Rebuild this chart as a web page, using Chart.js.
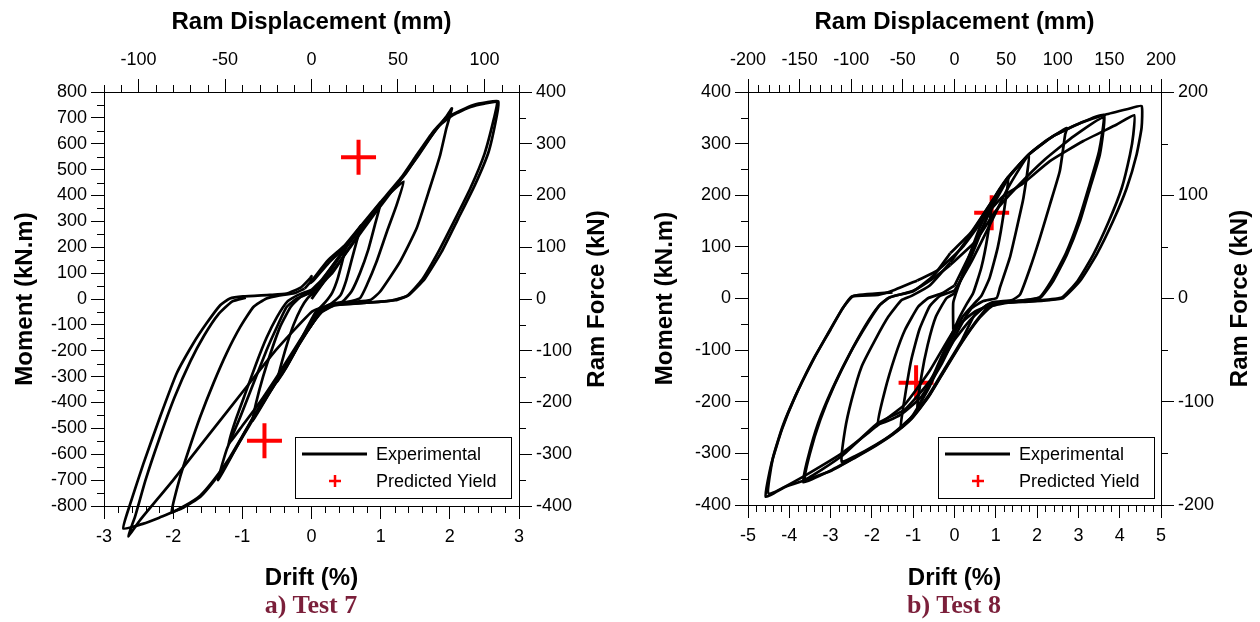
<!DOCTYPE html>
<html>
<head>
<meta charset="utf-8">
<script src="https://cdn.jsdelivr.net/npm/chart.js@4.4.0/dist/chart.umd.min.js"></script>
<style>
  html, body { margin: 0; padding: 0; background: #fff; }
  #wrap { position: relative; width: 1260px; height: 622px; }
  .panel { position: absolute; top: 0; width: 630px; height: 622px; }
  .caption {
    position: absolute; top: 590px; line-height: 30px;
    font: bold 26px "Liberation Serif", "Times New Roman", serif;
    color: #7b1f3a; white-space: nowrap; transform: translateX(-50%);
  }
</style>
</head>
<body>
<div id="wrap">
  <div class="panel" style="left:0"><canvas id="test7" width="630" height="622"></canvas></div>
  <div class="panel" style="left:630px"><canvas id="test8" width="630" height="622"></canvas></div>
  <div class="caption" style="left:311px">a) Test 7</div>
  <div class="caption" style="left:954px">b) Test 8</div>
</div>
<script>
const FONT = '"Liberation Sans", Arial, sans-serif';

// ---- Test 7: drift (%) vs moment (kN.m), one array per cycle ----
const t7Cycle1 = [[0,0],[0.15,55],[0.3,120],[0.45,180],[0.5,205],[0.45,150],[0.38,80],[0.3,25],[0.2,-12],[0.05,-55],[-0.1,-130],[-0.25,-210],[-0.4,-280],[-0.5,-320],[-0.45,-265],[-0.36,-180],[-0.26,-100],[-0.15,-35],[-0.05,5],[0.05,30]];
const t7Cycle2 = [[0.05,30],[0.2,90],[0.4,165],[0.6,240],[0.72,285],[0.65,220],[0.58,150],[0.5,70],[0.42,15],[0.3,-15],[0.15,-45],[0,-100],[-0.2,-185],[-0.4,-275],[-0.6,-360],[-0.85,-470],[-0.8,-400],[-0.7,-300],[-0.58,-200],[-0.45,-105],[-0.3,-30],[-0.15,10],[0,30]];
const t7Cycle3 = [[0,30],[0.3,100],[0.55,200],[0.8,295],[1.0,375],[0.92,290],[0.82,190],[0.7,100],[0.58,30],[0.45,-10],[0.25,-22],[0.1,-50],[-0.05,-110],[-0.25,-195],[-0.5,-300],[-0.75,-400],[-1.0,-490],[-1.2,-560],[-1.1,-470],[-0.95,-360],[-0.8,-250],[-0.65,-150],[-0.5,-70],[-0.35,-10],[-0.2,15],[0,35]];
const t7Cycle4 = [[0,35],[0.15,75],[0.35,145],[0.6,235],[0.9,340],[1.1,400],[1.33,454],[1.23,363],[1.09,260],[0.94,144],[0.8,54],[0.7,3],[0.5,-12],[0.3,-20],[0.15,-45],[0,-100],[-0.17,-165],[-0.36,-255],[-0.6,-350],[-0.85,-460],[-1.1,-580],[-1.35,-700],[-1.23,-585],[-1.03,-456],[-0.84,-327],[-0.65,-198],[-0.5,-108],[-0.36,-31],[-0.21,2],[-0.05,20],[0.1,40]];
const t7Cycle5 = [[0.1,40],[0.3,105],[0.6,215],[0.9,325],[1.2,430],[1.52,545],[1.76,640],[1.95,705],[2.03,737],[1.95,660],[1.86,556],[1.71,428],[1.52,273],[1.28,144],[0.99,28],[0.85,-4],[0.6,-12],[0.34,-22],[0.15,-48],[0,-100],[-0.17,-168],[-0.36,-258],[-0.55,-335],[-0.8,-440],[-1.0,-530],[-1.2,-620],[-1.4,-695],[-1.61,-760],[-1.85,-802],[-2.02,-823],[-1.9,-688],[-1.76,-572],[-1.61,-456],[-1.42,-327],[-1.23,-211],[-1.03,-108],[-0.84,-31],[-0.65,2],[-0.46,14],[-0.25,22],[-0.1,40]];
const t7Cycle6 = [[-0.1,40],[0,70],[0.24,150],[0.48,207],[0.72,285],[1.0,375],[1.3,470],[1.52,556],[1.76,647],[1.95,700],[2.15,728],[2.34,750],[2.53,760],[2.7,764],[2.68,710],[2.56,568],[2.36,439],[2.12,310],[1.88,182],[1.64,79],[1.4,14],[1.21,-5],[0.97,-11],[0.63,-18],[0.34,-24],[0.15,-50],[0,-100],[-0.17,-170],[-0.36,-262],[-0.55,-338],[-0.8,-445],[-1.0,-535],[-1.2,-625],[-1.4,-700],[-1.61,-765],[-1.85,-806],[-2.02,-825],[-2.2,-845],[-2.43,-868],[-2.72,-887],[-2.62,-791],[-2.43,-636],[-2.19,-456],[-1.95,-288],[-1.71,-172],[-1.52,-95],[-1.32,-24],[-1.18,2],[-0.99,10],[-0.6,16],[-0.36,21],[-0.15,45],[-0.02,80]];
const t7Cycle7 = [[-0.02,80],[0,88],[-0.01,62],[0.05,78],[0.25,140],[0.5,205],[0.75,285],[1.05,385],[1.35,480],[1.6,580],[1.85,670],[2.05,712],[2.3,742],[2.5,755],[2.68,760],[2.64,700],[2.5,560],[2.3,430],[2.06,300],[1.82,175],[1.6,75],[1.38,12],[1.15,-6],[0.8,-14],[0.4,-22],[0.2,-28],[0,-50],[-0.5,-193],[-0.94,-340],[-1.5,-530],[-2.0,-700],[-2.48,-855],[-2.65,-917],[-2.55,-840],[-2.4,-700],[-2.2,-540],[-1.98,-380],[-1.75,-240],[-1.55,-140],[-1.35,-60],[-1.15,-10],[-0.95,5]];
const t7Yield = [[0.68, 548], [-0.68, -548]];

// ---- Test 8 ----
const t8Cycle1 = [[-0.03,-60],[-0.03,-8],[0.1,25],[0.3,70],[0.6,135],[0.9,185],[0.8,120],[0.65,60],[0.45,10],[0.3,-10],[0.1,-40],[-0.3,-110],[-0.6,-165],[-0.9,-212],[-0.8,-150],[-0.65,-90],[-0.45,-35],[-0.2,0],[0,10]];
const t8Cycle2 = [[0,10],[0.3,60],[0.7,140],[1.0,200],[1.3,235],[1.2,170],[1.05,100],[0.85,40],[0.65,5],[0.5,-8],[0.2,-35],[-0.2,-100],[-0.6,-170],[-1.0,-225],[-1.3,-250],[-1.2,-190],[-1.05,-120],[-0.85,-60],[-0.6,-15],[-0.35,5],[0,15]];
const t8Cycle3 = [[0,15],[0.4,70],[0.9,150],[1.3,215],[1.8,278],[1.67,195],[1.51,137],[1.34,79],[1.1,21],[1.02,1],[0.7,-5],[0.4,-20],[0.1,-60],[-0.3,-125],[-0.8,-190],[-1.3,-225],[-1.85,-243],[-1.68,-177],[-1.44,-112],[-1.2,-61],[-0.88,-16],[-0.63,1],[-0.3,10],[0,25]];
const t8Cycle4 = [[0,25],[0.4,90],[0.9,175],[1.32,235],[1.8,279],[2.2,305],[2.72,330],[2.68,318],[2.55,247],[2.31,182],[2.07,118],[1.83,59],[1.59,8],[1.4,-3],[0.9,-8],[0.5,-30],[0.17,-82],[-0.23,-135],[-0.63,-188],[-1.04,-230],[-1.5,-262],[-1.9,-283],[-2.4,-305],[-2.73,-316],[-2.65,-254],[-2.49,-196],[-2.25,-132],[-1.92,-80],[-1.6,-35],[-1.28,-3],[-1.04,5],[-0.6,25],[-0.1,70]];
const t8Cycle5 = [[-0.1,70],[0.4,125],[0.88,185],[1.32,237],[1.8,279],[2.4,315],[3.05,340],[3.62,356],[3.52,279],[3.28,214],[3.04,150],[2.72,85],[2.39,34],[2.07,1],[1.5,-5],[0.9,-10],[0.58,-38],[0.17,-85],[-0.23,-137],[-0.63,-190],[-1.04,-232],[-1.5,-263],[-1.9,-284],[-2.4,-307],[-2.97,-332],[-3.66,-356],[-3.54,-306],[-3.3,-241],[-2.97,-177],[-2.57,-112],[-2.17,-54],[-1.85,-16],[-1.6,1],[-1.0,15],[-0.5,40],[-0.1,65]];
const t8Cycle5b = [[-0.1,65],[0.5,110],[1.0,170],[1.5,215],[2.2,270],[2.9,315],[3.6,350],[3.5,285],[3.25,215],[3.0,150],[2.7,88],[2.35,35],[2.05,2],[1.4,-6],[0.8,-12],[0.4,-40],[0,-80],[-0.6,-160],[-1.2,-215],[-1.85,-241],[-2.73,-305],[-3.62,-350],[-3.5,-300],[-3.25,-235],[-2.92,-170],[-2.52,-105],[-2.12,-50],[-1.8,-12],[-1.55,3],[-1.0,14],[-0.5,45],[-0.1,88]];
const t8Cycle6 = [[-0.1,88],[0.4,128],[0.88,185],[1.32,237],[1.8,279],[2.4,315],[3.05,340],[3.65,356],[4.2,367],[4.53,373],[4.53,331],[4.41,279],[4.17,214],[3.84,150],[3.44,85],[3.04,34],[2.63,1],[2.3,-3],[1.8,-6],[1.3,-8],[0.9,-15],[0.58,-40],[0.17,-86],[-0.23,-138],[-0.63,-191],[-1.04,-233],[-1.5,-264],[-1.9,-285],[-2.4,-308],[-2.97,-333],[-3.62,-352],[-4.1,-365],[-4.57,-384],[-4.43,-319],[-4.18,-254],[-3.86,-190],[-3.46,-125],[-3.06,-67],[-2.73,-22],[-2.49,4],[-1.85,7],[-1.44,17],[-0.9,35]];
const t8Cycle7 = [[-0.9,35],[-0.4,55],[0.2,100],[0.8,165],[1.2,200],[1.63,221],[2.31,266],[3.12,305],[3.93,337],[4.35,355],[4.33,318],[4.25,279],[4.05,214],[3.74,150],[3.36,85],[2.98,34],[2.6,2],[2.0,-4],[1.0,-10],[0.5,-25],[0,-60],[-0.6,-140],[-1.2,-205],[-1.85,-245],[-2.73,-300],[-3.66,-345],[-4.5,-378],[-4.4,-310],[-4.15,-245],[-3.8,-180],[-3.4,-115],[-3.0,-60],[-2.7,-18],[-2.45,5],[-1.5,12]];
const t8Yield = [[0.9, 166], [-0.93, -163]];

const MAJOR = { x: 1, xTop: 50, y: 100, yRight: 100 };

function isMultiple(v, step) {
  return Math.abs(v / step - Math.round(v / step)) < 1e-6;
}

function toPoints(arr) {
  return arr.map(p => ({ x: p[0], y: p[1] }));
}

function gridOpts(major) {
  return {
    drawOnChartArea: false,
    drawTicks: true,
    tickLength: 13,
    tickWidth: 1,
    tickColor: ctx => (ctx.tick && isMultiple(ctx.tick.value, major)) ? '#000' : 'rgba(0,0,0,0)'
  };
}

function tickOpts(step, major, pad) {
  return {
    stepSize: step,
    autoSkip: false,
    maxRotation: 0,
    padding: pad,
    color: '#000',
    font: { family: FONT, size: 18 },
    callback: v => isMultiple(v, major) ? String(Math.round(v)) : ''
  };
}

const titleFont = { family: FONT, size: 24, weight: 'bold' };

// short minor ticks, drawn outward from the frame
const minorTicks = {
  id: 'minorTicks',
  afterDraw(chart) {
    const ctx = chart.ctx, area = chart.chartArea;
    ctx.save();
    ctx.strokeStyle = '#000';
    ctx.lineWidth = 1;
    Object.keys(MAJOR).forEach(id => {
      const scale = chart.scales[id];
      if (!scale) return;
      scale.ticks.forEach(t => {
        if (isMultiple(t.value, MAJOR[id])) return;
        const p = Math.round(scale.getPixelForValue(t.value)) + 0.5;
        ctx.beginPath();
        if (scale.position === 'bottom') { ctx.moveTo(p, area.bottom); ctx.lineTo(p, area.bottom + 7); }
        else if (scale.position === 'top') { ctx.moveTo(p, area.top); ctx.lineTo(p, area.top - 7); }
        else if (scale.position === 'left') { ctx.moveTo(area.left, p); ctx.lineTo(area.left - 7, p); }
        else { ctx.moveTo(area.right, p); ctx.lineTo(area.right + 7, p); }
        ctx.stroke();
      });
    });
    ctx.restore();
  }
};

// boxed legend inside the plot, plus the right-hand axis title read bottom-to-top
const boxLegend = {
  id: 'boxLegend',
  afterDraw(chart, args, o) {
    const ctx = chart.ctx;
    const sets = chart.data.datasets;
    const lineSet = sets[0], yieldSet = sets[sets.length - 1];
    const L = o.left, T = o.top;
    ctx.save();
    ctx.fillStyle = '#fff';
    ctx.fillRect(L, T, 216, 61);
    ctx.strokeStyle = '#000';
    ctx.lineWidth = 1;
    ctx.strokeRect(L + 0.5, T + 0.5, 216, 61);
    ctx.lineWidth = 3;
    ctx.beginPath();
    ctx.moveTo(L + 7, T + 17);
    ctx.lineTo(L + 72, T + 17);
    ctx.stroke();
    ctx.strokeStyle = yieldSet.pointBorderColor;
    ctx.lineWidth = 2.5;
    ctx.beginPath();
    ctx.moveTo(L + 34, T + 44); ctx.lineTo(L + 46, T + 44);
    ctx.moveTo(L + 40, T + 38); ctx.lineTo(L + 40, T + 50);
    ctx.stroke();
    ctx.fillStyle = '#000';
    ctx.font = '18px ' + FONT;
    ctx.textAlign = 'left';
    ctx.textBaseline = 'middle';
    ctx.fillText(lineSet.label, L + 81, T + 18);
    ctx.fillText(yieldSet.label, L + 81, T + 45);

    const area = chart.chartArea;
    ctx.translate(o.rightTitleX, (area.top + area.bottom) / 2);
    ctx.rotate(-Math.PI / 2);
    ctx.font = 'bold 24px ' + FONT;
    ctx.textAlign = 'center';
    ctx.fillText('Ram Force (kN)', 0, 0);
    ctx.restore();
  }
};

function makeChart(id, c) {
  const datasets = c.cycles.map(cyc => ({
    label: 'Experimental',
    data: toPoints(cyc),
    showLine: true,
    borderColor: '#000',
    borderWidth: 2.7,
    pointRadius: 0,
    tension: 0.15,
    clip: false,
    order: 0
  }));
  datasets.push({
    label: 'Predicted Yield',
    data: toPoints(c.yields),
    showLine: false,
    pointStyle: 'cross',
    pointRadius: 17.5,
    pointBorderWidth: 4,
    pointBorderColor: '#ff0000',
    order: 1
  });

  return new Chart(document.getElementById(id), {
    type: 'scatter',
    data: { datasets },
    options: {
      responsive: false,
      animation: false,
      devicePixelRatio: 1,
      layout: { padding: 0 },
      plugins: {
        legend: { display: false },
        tooltip: { enabled: false },
        boxLegend: { left: c.legendLeft, top: 437, rightTitleX: c.rightTitleX }
      },
      scales: {
        x: {
          type: 'linear', position: 'bottom', min: -c.xMax, max: c.xMax,
          ticks: tickOpts(0.2, 1, 7),
          grid: gridOpts(1),
          border: { display: true, color: '#000', width: 1 },
          title: { display: true, text: 'Drift (%)', color: '#000', font: titleFont, padding: { top: 0, bottom: 29 } },
          afterFit: s => { s.height = c.bottomH; }
        },
        xTop: {
          type: 'linear', position: 'top', min: -c.topMax, max: c.topMax,
          ticks: tickOpts(10, 50, 8),
          grid: gridOpts(50),
          border: { display: true, color: '#000', width: 1 },
          title: { display: true, text: 'Ram Displacement (mm)', color: '#000', font: titleFont, padding: { top: 8, bottom: 0 } },
          afterFit: s => { s.height = c.topH; }
        },
        y: {
          type: 'linear', position: 'left', min: -c.yMax, max: c.yMax,
          ticks: tickOpts(50, 100, 4),
          grid: gridOpts(100),
          border: { display: true, color: '#000', width: 1 },
          title: { display: true, text: 'Moment (kN.m)', color: '#000', font: titleFont, padding: { top: c.leftTitlePad, bottom: 0 } },
          afterFit: s => { s.width = c.leftW; }
        },
        yRight: {
          type: 'linear', position: 'right', min: -c.rMax, max: c.rMax,
          ticks: tickOpts(50, 100, 4),
          grid: gridOpts(100),
          border: { display: true, color: '#000', width: 1 },
          afterFit: s => { s.width = c.rightW; }
        }
      }
    },
    plugins: [minorTicks, boxLegend]
  });
}

makeChart('test7', {
  cycles: [t7Cycle1, t7Cycle2, t7Cycle3, t7Cycle4, t7Cycle5, t7Cycle6, t7Cycle7],
  yields: t7Yield,
  xMax: 3, topMax: 120, yMax: 800, rMax: 400,
  leftW: 104, rightW: 111, topH: 92, bottomH: 116,
  leftTitlePad: 11, rightTitleX: 597, legendLeft: 295
});

makeChart('test8', {
  cycles: [t8Cycle1, t8Cycle2, t8Cycle3, t8Cycle4, t8Cycle5, t8Cycle5b, t8Cycle6, t8Cycle7],
  yields: t8Yield,
  xMax: 5, topMax: 200, yMax: 400, rMax: 200,
  leftW: 118, rightW: 99, topH: 92, bottomH: 117,
  leftTitlePad: 21, rightTitleX: 610, legendLeft: 308
});
</script>
</body>
</html>
